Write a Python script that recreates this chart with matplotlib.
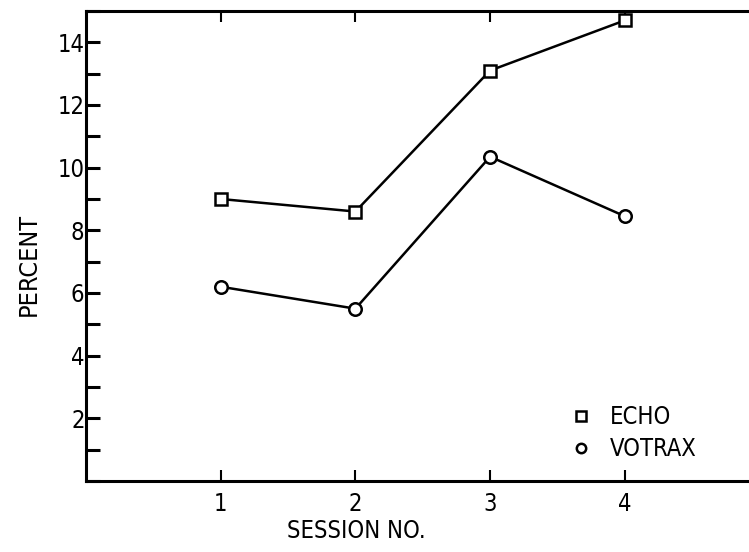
import matplotlib
matplotlib.use("Agg")
import matplotlib.pyplot as plt
from matplotlib.ticker import MultipleLocator

sessions = [1, 2, 3, 4]
echo = [9.0, 8.6, 13.1, 14.7]
votrax = [6.2, 5.5, 10.35, 8.45]
xticklabels = ["1", "2", "3", "4"]
yticks = [2, 4, 6, 8, 10, 12, 14]

plt.rcParams['font.family'] = ['DejaVu Sans']
plt.rcParams['font.stretch'] = 'condensed'

fig = plt.figure(figsize=(7.49, 5.52), dpi=100)
W, H = 749, 552
left, right, top, bottom = 86, 749, 11, 481
ax = fig.add_axes([left / W, 1 - bottom / H, (right - left) / W, (bottom - top) / H])

ax.plot(sessions, echo, color='black', lw=1.8, marker='s', ms=9,
        mfc='white', mec='black', mew=1.8, label='ECHO')
ax.plot(sessions, votrax, color='black', lw=1.8, marker='o', ms=9,
        mfc='white', mec='black', mew=1.8, label='VOTRAX')

ax.set_xlim(0, (right - left) / 134.7)
ax.set_ylim(0, 15)
ax.set_xticks(sessions)
ax.set_xticklabels(xticklabels)
ax.set_yticks(yticks)
ax.set_yticklabels([str(v) for v in yticks])
ax.yaxis.set_minor_locator(MultipleLocator(1))

ax.spines['right'].set_visible(False)
for s in ['left', 'bottom', 'top']:
    ax.spines[s].set_linewidth(2.2)

ax.tick_params(axis='y', which='major', direction='in', length=10, width=2.2,
               labelsize=17, pad=1, right=False)
ax.tick_params(axis='y', which='minor', direction='in', length=10, width=2.2, right=False)
ax.tick_params(axis='x', which='major', direction='in', length=8, width=1.5,
               labelsize=17, pad=8, top=True)

ax.set_ylabel('PERCENT', fontsize=18)
ax.yaxis.set_label_coords(-0.068, 0.46)
ax.set_xlabel('SESSION NO.', fontsize=17)
ax.xaxis.set_label_coords(0.407, -0.08)

leg = ax.legend(loc='center left', bbox_to_anchor=(0.747, 0.102), frameon=False,
                fontsize=17, handlelength=0, handletextpad=1.2, labelspacing=0.35,
                borderpad=0, borderaxespad=0, markerscale=0.75)

fig.savefig('out.png', dpi=100)
